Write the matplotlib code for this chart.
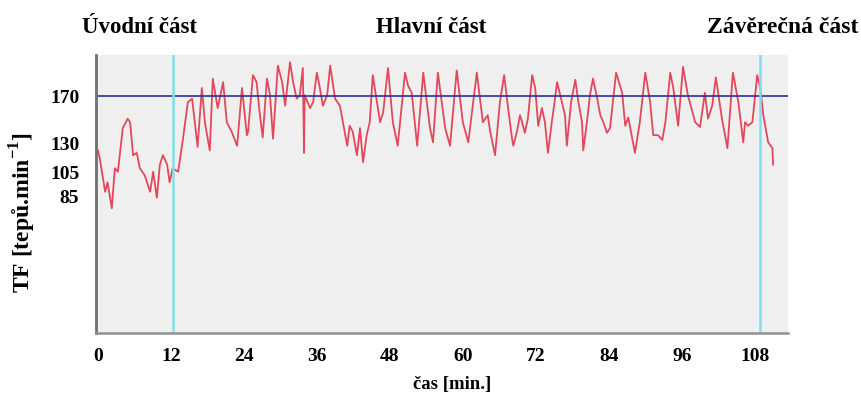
import matplotlib
matplotlib.use("Agg")
import matplotlib.pyplot as plt

plt.rcParams['font.family'] = ['Liberation Serif', 'DejaVu Serif']
plt.rcParams['font.weight'] = 'bold'
plt.rcParams['mathtext.fontset'] = 'custom'
plt.rcParams['mathtext.rm'] = 'Liberation Serif:bold'
plt.rcParams['mathtext.bf'] = 'Liberation Serif:bold'

# time of each reading [min]
cas = [0.0, 0.3, 1.2, 1.6, 2.3, 2.8, 3.3, 4.1, 4.9, 5.3, 5.8, 6.4, 6.9, 7.7, 8.6,
       9.1, 9.7, 10.2, 10.7, 11.4, 11.8, 12.3, 13.2, 14.0, 14.8, 15.5, 16.4, 17.1,
       17.6, 18.4, 18.9, 19.7, 20.6, 21.2, 22.0, 22.9, 23.7, 24.5, 24.7, 25.5,
       26.1, 26.6, 27.1, 27.8, 28.3, 28.8, 29.6, 30.3, 30.8, 31.6, 32.1, 32.7,
       33.2, 33.7, 33.9, 34.0, 34.9, 35.4, 36.0, 36.5, 37.0, 37.7, 38.2, 39.0,
       39.8, 41.0, 41.4, 41.9, 42.6, 43.1, 43.6, 44.2, 44.7, 45.2, 45.9, 46.4,
       46.9, 47.7, 48.5, 49.3, 50.5, 51.0, 51.6, 52.5, 53.5, 54.6, 55.1, 55.9,
       57.1, 57.9, 59.0, 60.0, 60.9, 62.3, 63.3, 64.1, 64.5, 65.3, 66.1, 66.8,
       67.4, 68.1, 68.3, 68.9, 69.4, 69.9, 70.2, 70.7, 71.4, 71.9, 72.4, 73.0,
       73.5, 74.0, 74.7, 74.8, 75.5, 76.3, 76.8, 77.1, 77.8, 78.5, 79.0, 79.6,
       79.8, 80.4, 80.9, 81.4, 82.1, 82.6, 83.1, 83.7, 84.2, 85.2, 86.2, 86.7,
       87.2, 88.3, 89.1, 90.0, 90.8, 91.3, 92.1, 92.8, 93.3, 94.1, 94.6, 95.4,
       96.2, 97.0, 98.2, 99.0, 99.8, 100.3, 101.0, 101.6, 102.6, 103.5, 104.4,
       105.3, 106.1, 106.4, 106.9, 107.6, 108.4, 108.9, 109.4, 110.2, 110.9, 111.0]

# heart rate [beats/min]
tf = [124, 118, 89, 97, 75, 109, 106, 143, 151, 148, 120, 122, 109, 103, 89,
      106, 84, 112, 120, 112, 97, 109, 106, 134, 165, 168, 127, 177,
      148, 124, 185, 160, 182, 148, 140, 128, 177, 137, 140, 188,
      182, 156, 135, 185, 171, 134, 196, 182, 162, 199, 182, 168,
      171, 194, 122, 171, 160, 165, 190, 177, 162, 171, 196, 168,
      162, 128, 145, 140, 120, 143, 114, 137, 148, 188, 165, 148,
      156, 194, 148, 128, 190, 179, 173, 128, 190, 143, 131, 190,
      143, 128, 192, 148, 131, 190, 148, 154, 140, 120, 165, 188,
      162, 134, 128, 140, 154, 145, 139, 151, 188, 177, 145, 160,
      148, 122, 151, 154, 182, 165, 154, 128, 165, 184, 165, 148,
      124, 148, 171, 185, 168, 154, 148, 139, 143, 190, 173, 145,
      152, 122, 148, 190, 165, 137, 137, 133, 148, 190, 177, 145,
      195, 171, 148, 144, 173, 151, 162, 186, 151, 126, 190,
      165, 131, 148, 145, 148, 188, 177, 154, 131, 126, 112]

x_ticks = [0, 12, 24, 36, 48, 60, 72, 84, 96, 108]
y_ticks = [85, 105, 130, 170]
hranice = [12.3, 108.9]   # boundaries between the parts
limit = 170

fig = plt.figure(figsize=(8.61, 3.99), dpi=100)
ax = fig.add_axes([0.1115, 0.165, 0.804, 0.697])
ax.set_facecolor('#efefef')

ax.plot(cas, tf, color='#e2485a', linewidth=1.3)
ax.axhline(limit, color='#2a2f9a', linewidth=1.2)
for h in hranice:
    ax.axvline(h, color='#84dde6', linewidth=1.8)

ax.set_xlim(-0.3, 113.5)
ax.set_ylim(-31, 205)
ax.set_xticks(x_ticks)
ax.set_yticks(y_ticks)
ax.tick_params(length=0, labelsize=14)
ax.tick_params(axis='x', pad=11)
ax.tick_params(axis='y', pad=12)

for s in ['top', 'right']:
    ax.spines[s].set_visible(False)
ax.spines['left'].set_color('#707070')
ax.spines['left'].set_linewidth(2)
ax.spines['bottom'].set_color('#909090')
ax.spines['bottom'].set_linewidth(1.8)

fig.text(0.1626, 0.93, 'Úvodní část', ha='center', va='center', fontsize=16.5)
fig.text(0.5006, 0.93, 'Hlavní část', ha='center', va='center', fontsize=16.5)
fig.text(0.9965, 0.93, 'Závěrečná část', ha='right', va='center', fontsize=17)

fig.text(0.525, 0.036, 'čas [min.]', ha='center', va='center', fontsize=13.5)
fig.text(0.026, 0.466, 'TF [tepů.min$^{-1}$]', rotation=90,
         ha='center', va='center', fontsize=17)

plt.savefig('out.png', dpi=100)
